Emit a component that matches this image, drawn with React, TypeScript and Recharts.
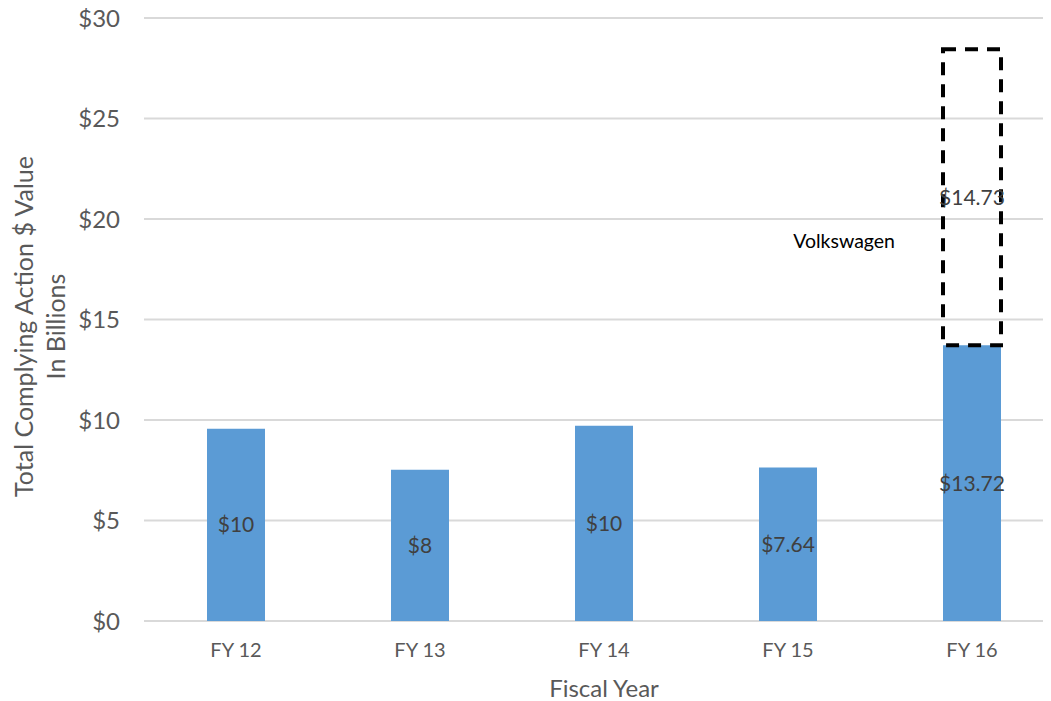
import React from 'react';
import { BarChart, Bar, XAxis, YAxis, CartesianGrid, LabelList, ReferenceDot } from 'recharts';

const fiscalYears = ['FY 12', 'FY 13', 'FY 14', 'FY 15', 'FY 16'];
const baseValues = [9.57, 7.52, 9.72, 7.64, 13.72];
const baseLabels = ['$10', '$8', '$10', '$7.64', '$13.72'];
const volkswagenValues = [0, 0, 0, 0, 14.73];
const volkswagenLabels = ['', '', '', '', '$14.73'];
const yTicks = [0, 5, 10, 15, 20, 25, 30];

const data = fiscalYears.map((fy, i) => ({
  fy,
  base: baseValues[i],
  baseLabel: baseLabels[i],
  vw: volkswagenValues[i],
  vwLabel: volkswagenLabels[i],
}));

const FONT = 'Lato, "Open Sans", sans-serif';
const GRAY = '#595959';

const YAxisTitle = (props: any) => {
  const { viewBox } = props;
  const cy = viewBox.y + viewBox.height / 2 + 7;
  const x1 = viewBox.x + 33;
  const x2 = viewBox.x + 65;
  return (
    <g fill={GRAY} fontSize={25} fontFamily={FONT}>
      <text x={x1} y={cy} textAnchor="middle" transform={`rotate(-90, ${x1}, ${cy})`}>
        Total Complying Action $ Value
      </text>
      <text x={x2} y={cy} textAnchor="middle" transform={`rotate(-90, ${x2}, ${cy})`}>
        In Billions
      </text>
    </g>
  );
};

export default function App() {
  return (
    <div style={{ margin: '-8px 0 0 -8px', width: 1051, height: 701, overflow: 'hidden', background: '#fff' }}>
      <BarChart
        width={1070}
        height={701}
        data={data}
        margin={{ top: 18, right: 6, bottom: 0, left: 0 }}
        barSize={58}
        style={{ fontFamily: FONT }}
      >
        <CartesianGrid horizontal vertical={false} stroke="#d9d9d9" strokeWidth={2} />
        <XAxis
          dataKey="fy"
          height={80}
          axisLine={false}
          tickLine={false}
          tickSize={0}
          tickMargin={22}
          tick={{ fontSize: 20, fill: GRAY }}
          label={{ value: 'Fiscal Year', position: 'insideBottom', offset: 4, fill: GRAY, fontSize: 24 }}
        />
        <YAxis
          width={144}
          domain={[0, 30]}
          ticks={yTicks}
          axisLine={false}
          tickLine={false}
          tickSize={0}
          tickMargin={24}
          tickFormatter={(v: number) => `$${v}`}
          tick={{ fontSize: 24, fill: GRAY }}
          label={<YAxisTitle />}
        />
        <Bar dataKey="base" stackId="a" fill="#5b9bd5" isAnimationActive={false}>
          <LabelList dataKey="baseLabel" position="center" fill="#404040" fontSize={21} />
        </Bar>
        <Bar
          dataKey="vw"
          stackId="a"
          fill="none"
          stroke="#000"
          strokeWidth={4}
          strokeDasharray="13 9"
          isAnimationActive={false}
        >
          <LabelList dataKey="vwLabel" position="center" fill="#404040" fontSize={21} />
        </Bar>
        <ReferenceDot
          x="FY 16"
          y={18.9}
          r={0}
          ifOverflow="visible"
          label={{ value: 'Volkswagen', position: 'left', offset: 77, fill: '#000', fontSize: 19.5 }}
        />
      </BarChart>
    </div>
  );
}
